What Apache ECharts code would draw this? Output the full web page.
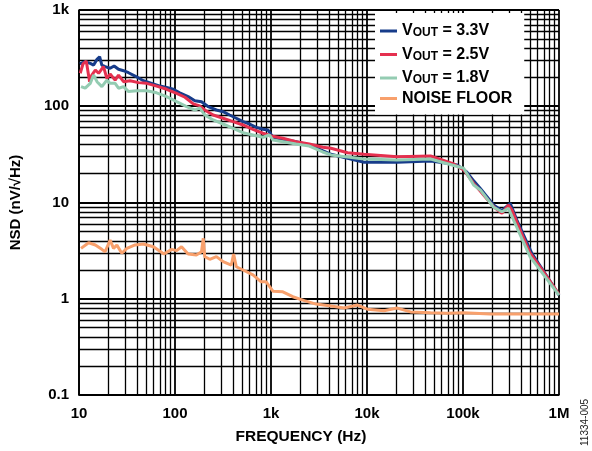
<!DOCTYPE html>
<html><head><meta charset="utf-8">
<script src="https://cdn.jsdelivr.net/npm/echarts@6/dist/echarts.min.js"></script>
<style>html,body{margin:0;padding:0;background:#fff}#c{width:592px;height:451px}</style>
</head><body><div id="c"></div>
<script>
// Tick labels
const xTickLabels = ['10', '100', '1k', '10k', '100k', '1M'];
const yTickLabels = ['0.1', '1', '10', '100', '1k'];

// VOUT = 3.3V
const freq33 = [10.2,11.6,13.1,14.2,15.4,16.4,17.3,18.7,21.1,23.2,25.8,29.1,32.8,38.4,46.9,57.2,69.7,81.8,96,112,137,161,189,222,270,317,371,435,511,598,702,824,929,1047,1329,1826,2508,3455,4212,9333,20700,45900,63070,86850,110300,129100,151500,208200,254400,310200,364100,521200,745600,1000000];
const nsd33 = [275,290,279,268,307,327,268,258,248,262,242,234,223,206,184,173,162,157,150,138,126,114,111.5,98.9,91.4,87.8,81.1,75.0,69.1,65.4,60.4,57.6,56.7,47.6,45.4,42.8,39.6,34.5,31.7,26.2,26.2,27.0,25.9,24.5,20.6,16.8,14.0,9.42,8.22,9.81,6.58,2.97,1.72,1.09];

// VOUT = 2.5V
const freq25 = [10.3,11.0,11.9,12.9,13.6,14.8,16.0,18.0,19.5,21.1,23.8,25.8,29.1,34.1,41.6,50.7,64.4,81.8,104,127,155,181,204,250,317,403,511,649,824,1005,1329,1826,2508,3455,4212,6278,9333,20700,45900,80070,101600,129100,163900,208200,254400,298000,323100,393900,500200,687300,1000000];
const nsd25 = [220,275,295,180,211,238,220,258,195,216,187,211,180,184,176,173,162,150,136,124,106,101,91.4,81.1,75.0,69.1,63.9,57.6,52.4,49.1,46.5,42.8,40.5,37.5,36.6,32.9,31.7,29.9,30.4,25.1,21.8,15.8,11.97,9.04,7.72,9.42,8.36,5.18,2.97,1.91,1.11];

// VOUT = 1.8V
const freq18 = [10.5,11.6,13.1,14.2,15.4,17.3,19.5,21.1,23.8,25.8,29.1,32.8,40.0,50.7,64.4,81.8,104,132,161,181,204,250,317,403,511,649,824,965,1047,1329,1826,2508,3455,4212,9333,20700,45900,101600,129100,151500,208200,254400,298000,335700,500200,1000000];
const nsd18 = [160,154,173,211,180,160,187,173,173,154,160,142,145,145,138,126,111.5,98.9,91.4,96,81.1,72.0,65.4,59.0,53.1,50.3,47.6,50.3,44.6,42.8,40.5,38.6,33.5,31.2,28.3,27.6,28.3,22.7,15.2,13.5,8.92,8.02,8.70,6.58,2.73,1.09];

// NOISE FLOOR
const freqNF = [10.5,12.6,14.8,17.3,18.7,21.1,22.9,24.8,27.9,31.5,38.4,46.9,59.6,76.7,92.3,104,117,137,167,189,197,204,230,270,317,386,408,435,511,649,790,891,1047,1329,1687,2227,2946,4210,5780,7960,10100,15000,20700,28400,45900,68400,101600,192000,427000,1000000];
const nsdNF = [3.34,3.82,3.62,3.26,3.08,4.07,3.34,3.62,2.97,3.34,3.62,3.71,3.47,2.92,3.26,3.16,3.47,2.92,2.85,3.08,4.25,2.74,2.57,2.74,2.43,2.24,2.92,2.15,1.99,1.77,1.50,1.50,1.20,1.18,1.05,0.955,0.88,0.84,0.80,0.86,0.78,0.75,0.80,0.73,0.716,0.706,0.716,0.695,0.695,0.695];

const seriesNames = ['VOUT = 3.3V', 'VOUT = 2.5V', 'VOUT = 1.8V', 'NOISE FLOOR'];
const legendRich = {
  'VOUT = 3.3V': '{v|V}{s|OUT}{v| = 3.3V}',
  'VOUT = 2.5V': '{v|V}{s|OUT}{v| = 2.5V}',
  'VOUT = 1.8V': '{v|V}{s|OUT}{v| = 1.8V}',
  'NOISE FLOOR': '{v|NOISE FLOOR}'
};

const FONT = 'Liberation Sans, Arial, sans-serif';
const pairs = (f, v) => f.map((x, i) => [x, v[i]]);

// minor grid values (2..9 within each decade)
const xMinor = [], yMinor = [];
[10, 100, 1000, 10000, 100000].forEach(d => { for (let k = 2; k <= 9; k++) xMinor.push(k * d); });
[0.1, 1, 10, 100].forEach(d => { for (let k = 2; k <= 9; k++) yMinor.push(+(k * d).toPrecision(3)); });
const minorLines = xMinor.map(v => ({ xAxis: v })).concat(yMinor.map(v => ({ yAxis: v })));

const chart = echarts.init(document.getElementById('c'), null, { renderer: 'canvas' });
const lineSeries = (name, data, color, z) => ({
  name, type: 'line', data, showSymbol: false, symbol: 'none', smooth: false,
  lineStyle: { color, width: 3 }, itemStyle: { color }, z, animation: false,
  emphasis: { disabled: true }
});

chart.setOption({
  animation: false,
  backgroundColor: '#fff',
  grid: { left: 77, right: 33, top: 10, bottom: 56, show: false, containLabel: false },
  xAxis: {
    type: 'log', logBase: 10, min: 10, max: 1000000,
    name: 'FREQUENCY (Hz)', nameLocation: 'middle', nameGap: 34,
    nameTextStyle: { fontFamily: FONT, fontWeight: 'bold', fontSize: 15.5, color: '#000', padding: [0, 36, 0, 0] },
    axisLine: { show: true, onZero: false, lineStyle: { color: '#000', width: 1.6 } },
    axisTick: { show: false },
    axisLabel: {
      margin: 11, fontFamily: FONT, fontWeight: 'bold', fontSize: 15, color: '#000',
      formatter: v => xTickLabels[Math.round(Math.log10(v)) - 1]
    },
    splitLine: { show: true, lineStyle: { color: '#000', width: 1.8 } },
    minorTick: { show: false }, minorSplitLine: { show: false }
  },
  yAxis: {
    type: 'log', logBase: 10, min: 0.1, max: 1000,
    name: 'NSD (nV/√Hz)', nameLocation: 'middle', nameGap: 56, nameRotate: 90,
    nameTextStyle: { fontFamily: FONT, fontWeight: 'bold', fontSize: 15, color: '#000' },
    axisLine: { show: true, onZero: false, lineStyle: { color: '#000', width: 1.6 } },
    axisTick: { show: false },
    axisLabel: {
      margin: 10, fontFamily: FONT, fontWeight: 'bold', fontSize: 15, color: '#000',
      formatter: v => yTickLabels[Math.round(Math.log10(v)) + 1]
    },
    splitLine: { show: true, lineStyle: { color: '#000', width: 1.8 } },
    minorTick: { show: false }, minorSplitLine: { show: false }
  },
  legend: {
    data: seriesNames, orient: 'vertical', left: 375, top: 13,
    backgroundColor: '#fff', padding: [7, 12, 8, 5], itemGap: 4.5,
    icon: 'rect', itemWidth: 17, itemHeight: 3,
    formatter: n => legendRich[n],
    textStyle: {
      color: '#000', fontFamily: FONT, fontWeight: 'bold', fontSize: 16,
      rich: {
        v: { fontFamily: FONT, fontWeight: 'bold', fontSize: 16, color: '#000', lineHeight: 16, verticalAlign: 'bottom' },
        s: { fontFamily: FONT, fontWeight: 'bold', fontSize: 12, color: '#000', lineHeight: 16, verticalAlign: 'bottom', padding: [7, 0, 0, 0] }
      }
    },
    selectedMode: false, z: 10
  },
  graphic: [{
    type: 'text', x: 590, y: 446, rotation: Math.PI / 2,
    style: { text: '11334-005', font: '10px Liberation Sans, Arial, sans-serif', fill: '#222', textAlign: 'left', textVerticalAlign: 'bottom' }
  }],
  series: [
    {
      name: 'grid-minor', type: 'line', data: [], z: 1, silent: true, animation: false,
      markLine: {
        silent: true, symbol: ['none', 'none'], animation: false, z: 1,
        label: { show: false }, emphasis: { disabled: true },
        lineStyle: { color: '#000', width: 1.3, type: 'solid' },
        data: minorLines
      }
    },
    lineSeries(seriesNames[0], pairs(freq33, nsd33), '#173c8a', 5),
    lineSeries(seriesNames[1], pairs(freq25, nsd25), '#e5304f', 5),
    lineSeries(seriesNames[2], pairs(freq18, nsd18), '#94ccb2', 5),
    lineSeries(seriesNames[3], pairs(freqNF, nsdNF), '#f8a06c', 5)
  ]
});
</script></body></html>
